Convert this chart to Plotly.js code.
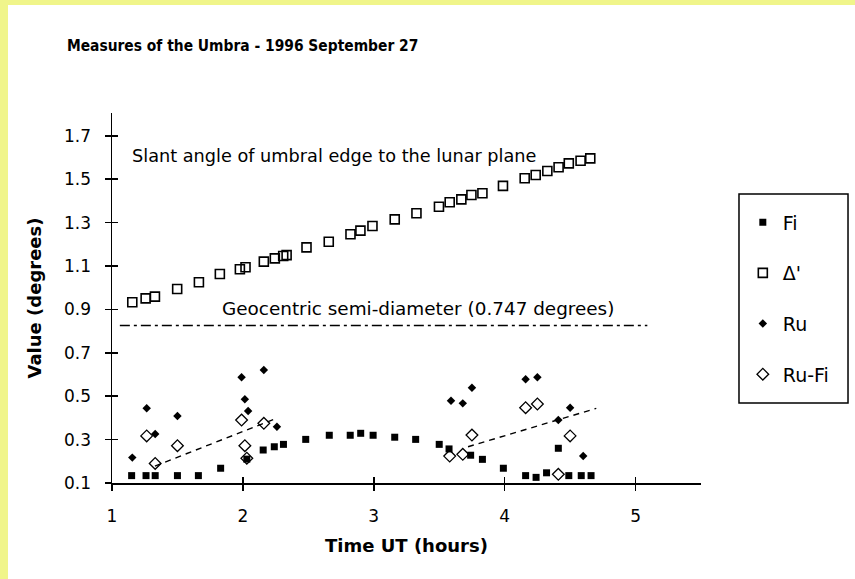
<!DOCTYPE html>
<html>
<head>
<meta charset="utf-8">
<script src="https://cdn.plot.ly/plotly-3.0.1.min.js"></script>
<style>
  html, body { margin:0; padding:0; background:#f0f58a; width:855px; height:579px; overflow:hidden; }
  #chart { position:absolute; left:8px; top:5px; width:847px; height:574px; background:#fff; }
</style>
</head>
<body>
<div id="chart"></div>
<script>
// ---- data ----
const xTicks = [1, 2, 3, 4, 5];
const xTickText = ['1', '2', '3', '4', '5'];
const yTicks = [0.1, 0.3, 0.5, 0.7, 0.9, 1.1, 1.3, 1.5, 1.7];
const yTickText = ['0.1', '0.3', '0.5', '0.7', '0.9', '1.1', '1.3', '1.5', '1.7'];

const fiX = [1.15, 1.26, 1.33, 1.50, 1.66, 1.83, 2.03, 2.155, 2.24, 2.31, 2.48, 2.66, 2.82, 2.90, 2.995, 3.16, 3.32, 3.50, 3.575, 3.74, 3.83, 3.99, 4.16, 4.24, 4.32, 4.41, 4.49, 4.585, 4.66];
const fiY = [0.134, 0.134, 0.134, 0.134, 0.134, 0.168, 0.21, 0.252, 0.267, 0.278, 0.301, 0.320, 0.320, 0.329, 0.320, 0.311, 0.301, 0.278, 0.257, 0.228, 0.209, 0.168, 0.134, 0.126, 0.147, 0.26, 0.134, 0.134, 0.134];

const deltaX = [1.155, 1.257, 1.328, 1.498, 1.664, 1.824, 1.977, 2.02, 2.16, 2.244, 2.308, 2.334, 2.486, 2.656, 2.822, 2.898, 2.99, 3.16, 3.326, 3.498, 3.58, 3.669, 3.746, 3.83, 3.987, 4.153, 4.237, 4.326, 4.412, 4.49, 4.58, 4.654];
const deltaY = [0.933, 0.951, 0.959, 0.994, 1.025, 1.063, 1.085, 1.094, 1.12, 1.135, 1.146, 1.15, 1.186, 1.212, 1.246, 1.263, 1.284, 1.315, 1.343, 1.373, 1.394, 1.407, 1.427, 1.435, 1.469, 1.504, 1.519, 1.538, 1.555, 1.573, 1.585, 1.596];

const ruX = [1.155, 1.265, 1.33, 1.50, 1.99, 2.015, 2.04, 2.16, 2.26, 3.59, 3.68, 3.75, 4.16, 4.25, 4.41, 4.50, 4.60];
const ruY = [0.217, 0.444, 0.326, 0.409, 0.587, 0.486, 0.432, 0.621, 0.359, 0.479, 0.467, 0.539, 0.578, 0.587, 0.390, 0.447, 0.224];

const rufiX = [1.16, 1.265, 1.33, 1.50, 1.99, 2.015, 2.03, 2.16, 2.26, 3.58, 3.68, 3.75, 4.16, 4.25, 4.41, 4.50, 4.60];
const rufiY = [0.086, 0.317, 0.19, 0.272, 0.39, 0.272, 0.214, 0.375, 0.099, 0.224, 0.232, 0.321, 0.447, 0.464, 0.14, 0.317, 0.094];

const trendLeftX = [1.328, 2.257];
const trendLeftY = [0.178, 0.398];
const trendRightX = [3.72, 4.70];
const trendRightY = [0.267, 0.444];

const semiX = [1.06, 5.09];
const semiY = [0.826, 0.826];

const seriesNames = ['Fi', 'Δ\'', 'Ru', 'Ru-Fi'];
const slantText = 'Slant angle of umbral edge to the lunar plane';
const semiText = 'Geocentric semi-diameter (0.747 degrees)';

// ---- traces ----
const black = '#000';
const traces = [
  { x: fiX, y: fiY, name: seriesNames[0], legendgroup: 'g1', type: 'scatter', mode: 'markers', cliponaxis: false,
    marker: { symbol: 'square', size: 7, color: black } },
  { x: deltaX, y: deltaY, name: seriesNames[1], legendgroup: 'g2', type: 'scatter', mode: 'markers', cliponaxis: false,
    marker: { symbol: 'square-open', size: 9, color: black, line: { width: 1.6, color: black } } },
  { x: ruX, y: ruY, name: seriesNames[2], legendgroup: 'g3', type: 'scatter', mode: 'markers', cliponaxis: false,
    marker: { symbol: 'diamond', size: 6.5, color: black } },
  { x: rufiX, y: rufiY, name: seriesNames[3], legendgroup: 'g4', type: 'scatter', mode: 'markers', cliponaxis: false,
    marker: { symbol: 'diamond-open', size: 9, color: black, line: { width: 1.3, color: black } } },
  { x: trendLeftX, y: trendLeftY, type: 'scatter', mode: 'lines', showlegend: false, hoverinfo: 'skip',
    line: { color: black, width: 1.4, dash: '6px,5px' } },
  { x: trendRightX, y: trendRightY, type: 'scatter', mode: 'lines', showlegend: false, hoverinfo: 'skip',
    line: { color: black, width: 1.4, dash: '6px,5px' } },
  { x: semiX, y: semiY, xaxis: 'x2', yaxis: 'y2', type: 'scatter', mode: 'lines', showlegend: false, hoverinfo: 'skip',
    line: { color: black, width: 1.6, dash: '10px,4px,3px,4px' } }
];

const axisCommon = {
  showgrid: false, zeroline: false, fixedrange: true,
  tickcolor: black, tickwidth: 1.5, ticklen: 6
};

const layout = {
  width: 847, height: 574,
  margin: { l: 104, r: 154, t: 108, b: 96 },
  paper_bgcolor: '#fff', plot_bgcolor: 'rgba(0,0,0,0)',
  font: { family: 'DejaVu Sans, sans-serif', size: 16, color: black },
  showlegend: true,
  title: {
    text: '<b>Measures of the Umbra - 1996 September 27</b>',
    font: { family: 'DejaVu Sans Condensed, DejaVu Sans, sans-serif', size: 15.4, color: black },
    x: 0.277, xanchor: 'center', xref: 'container', y: 0.93, yanchor: 'middle'
  },
  xaxis: Object.assign({}, axisCommon, {
    range: [1, 5.5], tickvals: xTicks, ticktext: xTickText, ticks: 'outside',
    showline: true, linecolor: black, linewidth: 1.5,
    tickfont: { size: 17 }, ticklabelstandoff: 11,
    title: { text: '<b>Time UT (hours)</b>', font: { size: 18 }, standoff: 14 }
  }),
  yaxis: Object.assign({}, axisCommon, {
    range: [0.1, 1.805], tickvals: yTicks, ticktext: yTickText, ticks: 'outside',
    showline: true, linecolor: black, linewidth: 1.5,
    tickfont: { size: 17 }, ticklabelstandoff: 10,
    title: { text: '<b>Value (degrees)</b>', font: { size: 18 }, standoff: 18 }
  }),
  xaxis2: Object.assign({}, axisCommon, {
    overlaying: 'x', anchor: 'y2', range: [1, 5.5], tickvals: xTicks, ticks: 'inside',
    showticklabels: false, showline: false
  }),
  yaxis2: Object.assign({}, axisCommon, {
    overlaying: 'y', anchor: 'x2', range: [0.1, 1.805], tickvals: yTicks, ticks: 'inside',
    showticklabels: false, showline: false
  }),
  legend: {
    x: 1.071, xanchor: 'left', y: 0.756, yanchor: 'top',
    bgcolor: 'rgba(0,0,0,0)', borderwidth: 0,
    font: { size: 19, color: black },
    traceorder: 'grouped', tracegroupgap: 23, itemclick: false, itemdoubleclick: false
  },
  shapes: [
    { type: 'rect', xref: 'paper', yref: 'paper', x0: 1.0645, x1: 1.2496, y0: 0.216, y1: 0.781,
      line: { color: black, width: 1.5 }, fillcolor: 'rgba(0,0,0,0)' }
  ],
  annotations: [
    { text: slantText, x: 1.137, y: 1.605, xref: 'x', yref: 'y', xanchor: 'left', yanchor: 'middle',
      showarrow: false, font: { size: 17.7, color: black } },
    { text: semiText, x: 1.824, y: 0.906, xref: 'x', yref: 'y', xanchor: 'left', yanchor: 'middle',
      showarrow: false, font: { size: 18.4, color: black } }
  ]
};

Plotly.newPlot('chart', traces, layout, { displayModeBar: false, staticPlot: true });
</script>
</body>
</html>
